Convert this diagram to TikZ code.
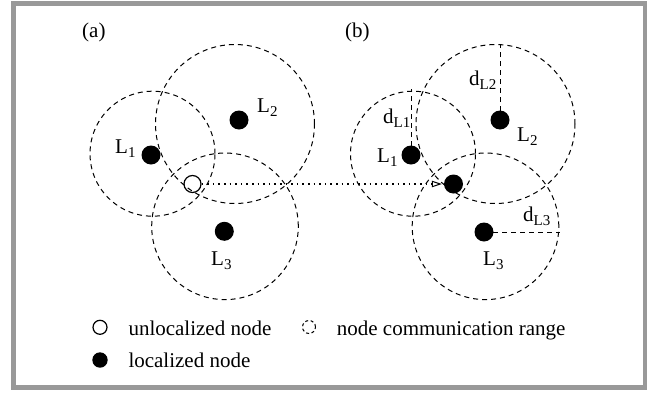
\documentclass[tikz,border=0pt]{standalone}
\usepackage{fontspec}
\setmainfont{Liberation Serif}
\usetikzlibrary{arrows.meta}
\definecolor{framegray}{RGB}{153,153,153}
\newcommand{\sbs}[1]{\raisebox{-4pt}{\fontsize{15}{15}\selectfont #1}}
\begin{document}
\begin{tikzpicture}[x=1pt,y=-1pt,
  range/.style={circle,draw,dash pattern=on 5pt off 4pt,line width=1pt,inner sep=0,minimum size=#1},
  ldot/.style={circle,fill=black,inner sep=0,minimum size=19pt},
  udot/.style={circle,draw=black,line width=1.2pt,inner sep=0,minimum size=17pt},
  lab/.style={anchor=base west,inner sep=0,font=\fontsize{21}{25}\selectfont},
  rline/.style={dash pattern=on 5pt off 4pt,line width=1pt},
  dotarrow/.style={line width=1.6pt,dash pattern=on 1.6pt off 4pt,
    -{Triangle[open,length=10pt,width=6.5pt,line width=1pt]},shorten >=2pt}]
\useasboundingbox (0,0) rectangle (657,394);
\draw[framegray,line width=4.7pt] (13.3,3.3) rectangle (645,387.2);

% (a)
\node[lab] (ta) at (82,37) {(a)};
\node[range=125pt] (ca1) at (152.5,153.7) {};
\node[range=159pt] (ca2) at (235,124) {};
\node[range=146.6pt] (ca3) at (225,226.3) {};
\node[ldot] (a1) at (151,155) {};
\node[ldot] (a2) at (239,120) {};
\node[ldot] (a3) at (224.3,231.3) {};
\node[udot] (u) at (192.5,184) {};
\node[lab] (la1) at (115,153) {L\sbs{1}};
\node[lab] (la2) at (257,112) {L\sbs{2}};
\node[lab] (la3) at (211,265) {L\sbs{3}};

% (b)
\node[lab] (tb) at (345,37) {(b)};
\node[range=125pt] (cb1) at (413,153.7) {};
\node[range=159pt] (cb2) at (495.5,124) {};
\node[range=146.6pt] (cb3) at (485.5,226.3) {};
\node[ldot] (b1) at (411,155) {};
\node[ldot] (b2) at (500,120) {};
\node[ldot] (b3) at (484,232) {};
\node[ldot] (t) at (453.5,184) {};
\node[lab] (lb1) at (377,162) {L\sbs{1}};
\node[lab] (lb2) at (517,141) {L\sbs{2}};
\node[lab] (lb3) at (483,265) {L\sbs{3}};

\coordinate (e1) at (411,89.3);
\coordinate (e2) at (500,45);
\coordinate (e3) at (560,232);
\draw[rline] (b1.center) -- (e1);
\draw[rline] (b2.center) -- (e2);
\draw[rline] (b3.center) -- (e3);
\node[lab] (d1) at (383,123) {d\sbs{L1}};
\node[lab] (d2) at (469,85) {d\sbs{L2}};
\node[lab] (d3) at (523,221) {d\sbs{L3}};

\draw[dotarrow] (u) -- (t);

% legend
\node[udot,minimum size=14pt] (k1) at (100,327.3) {};
\node[ldot,minimum size=15.4pt] (k2) at (100,360) {};
\node[circle,draw,line width=1pt,dash pattern=on 3pt off 2.5pt,inner sep=0,minimum size=13pt] (k3) at (309,327) {};
\node[lab] (kt1) at (128.3,335) {unlocalized node};
\node[lab] (kt2) at (128.3,367) {localized node};
\node[lab] (kt3) at (336.7,335) {node communication range};
\end{tikzpicture}
\end{document}
